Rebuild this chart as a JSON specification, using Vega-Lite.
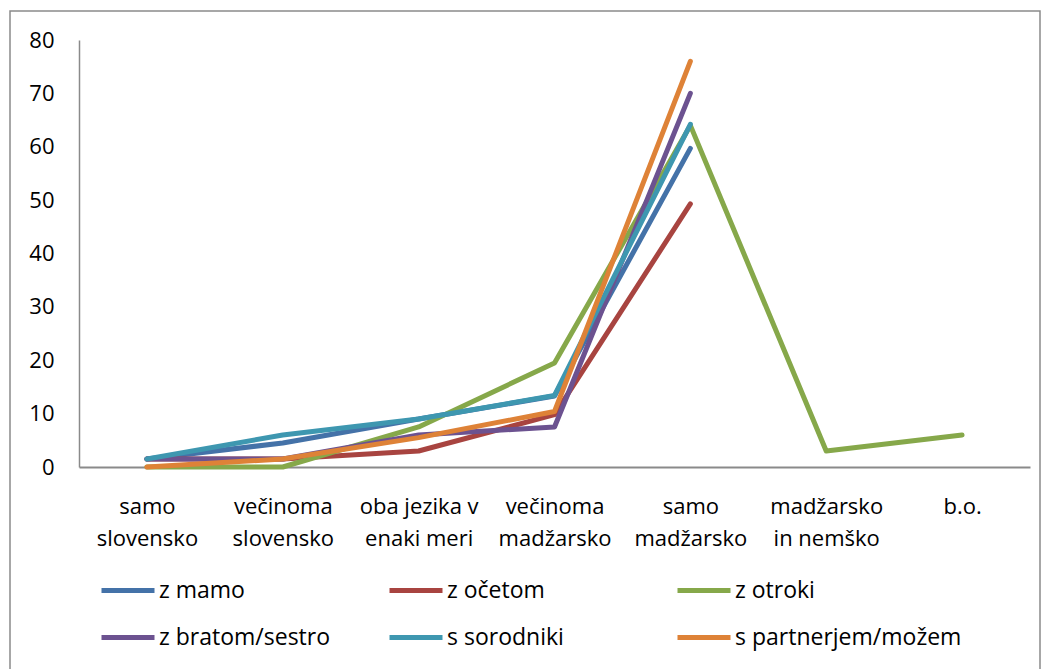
{
  "$schema": "https://vega.github.io/schema/vega-lite/v6.json",
  "width": 1030,
  "height": 659,
  "autosize": {"type": "none"},
  "padding": {"left": 10, "top": 11, "right": 7, "bottom": 0},
  "background": "white",
  "config": {
    "view": {"stroke": "#8a8a8a", "strokeWidth": 1.5},
    "font": "Open Sans"
  },
  "data": {
    "values": [
      {"series": "z mamo", "cat": "samo slovensko", "value": 1.5},
      {"series": "z mamo", "cat": "večinoma slovensko", "value": 4.5},
      {"series": "z mamo", "cat": "oba jezika v enaki meri", "value": 9},
      {"series": "z mamo", "cat": "večinoma madžarsko", "value": 13.3},
      {"series": "z mamo", "cat": "samo madžarsko", "value": 59.7},
      {"series": "z očetom", "cat": "samo slovensko", "value": 1.5},
      {"series": "z očetom", "cat": "večinoma slovensko", "value": 1.5},
      {"series": "z očetom", "cat": "oba jezika v enaki meri", "value": 3},
      {"series": "z očetom", "cat": "večinoma madžarsko", "value": 9.8},
      {"series": "z očetom", "cat": "samo madžarsko", "value": 49.3},
      {"series": "z otroki", "cat": "samo slovensko", "value": 0},
      {"series": "z otroki", "cat": "večinoma slovensko", "value": 0},
      {"series": "z otroki", "cat": "oba jezika v enaki meri", "value": 7.5},
      {"series": "z otroki", "cat": "večinoma madžarsko", "value": 19.5},
      {"series": "z otroki", "cat": "samo madžarsko", "value": 64},
      {"series": "z otroki", "cat": "madžarsko in nemško", "value": 3},
      {"series": "z otroki", "cat": "b.o.", "value": 6},
      {"series": "z bratom/sestro", "cat": "samo slovensko", "value": 1.5},
      {"series": "z bratom/sestro", "cat": "večinoma slovensko", "value": 1.5},
      {"series": "z bratom/sestro", "cat": "oba jezika v enaki meri", "value": 6},
      {"series": "z bratom/sestro", "cat": "večinoma madžarsko", "value": 7.5},
      {"series": "z bratom/sestro", "cat": "samo madžarsko", "value": 70},
      {"series": "s sorodniki", "cat": "samo slovensko", "value": 1.5},
      {"series": "s sorodniki", "cat": "večinoma slovensko", "value": 6},
      {"series": "s sorodniki", "cat": "oba jezika v enaki meri", "value": 9},
      {"series": "s sorodniki", "cat": "večinoma madžarsko", "value": 13.4},
      {"series": "s sorodniki", "cat": "samo madžarsko", "value": 64.2},
      {"series": "s partnerjem/možem", "cat": "samo slovensko", "value": 0},
      {"series": "s partnerjem/možem", "cat": "večinoma slovensko", "value": 1.5},
      {"series": "s partnerjem/možem", "cat": "oba jezika v enaki meri", "value": 5.5},
      {"series": "s partnerjem/možem", "cat": "večinoma madžarsko", "value": 10.4},
      {"series": "s partnerjem/možem", "cat": "samo madžarsko", "value": 76}
    ]
  },
  "mark": {"type": "line", "strokeWidth": 5, "strokeCap": "round", "strokeJoin": "round"},
  "encoding": {
    "x": {
      "field": "cat",
      "type": "ordinal",
      "sort": ["samo slovensko", "večinoma slovensko", "oba jezika v enaki meri", "večinoma madžarsko", "samo madžarsko", "madžarsko in nemško", "b.o."],
      "scale": {"type": "point", "padding": 0.5, "range": [69, 1020]},
      "axis": {
        "title": null,
        "orient": "bottom",
        "offset": -203,
        "domainColor": "#8a8a8a",
        "domainWidth": 2,
        "ticks": false,
        "tickSize": 0,
        "grid": false,
        "labelAngle": 0,
        "labelFontSize": 22,
        "labelColor": "#000000",
        "labelBaseline": "top",
        "labelLineHeight": 32,
        "labelPadding": 29,
        "labelAlign": "center",
        "labelExpr": "datum.value == 'oba jezika v enaki meri' ? ['oba jezika v', 'enaki meri'] : datum.value == 'madžarsko in nemško' ? ['madžarsko', 'in nemško'] : datum.value == 'b.o.' ? ['b.o.'] : split(datum.value, ' ')"
      }
    },
    "y": {
      "field": "value",
      "type": "quantitative",
      "scale": {"domain": [0, 80], "range": [456, 29], "nice": false, "zero": true},
      "axis": {
        "title": null,
        "orient": "left",
        "offset": -69,
        "values": [0, 10, 20, 30, 40, 50, 60, 70, 80],
        "domainColor": "#8a8a8a",
        "domainWidth": 1.5,
        "ticks": false,
        "tickSize": 0,
        "grid": false,
        "labelFontSize": 22,
        "labelColor": "#000000",
        "labelPadding": 25
      }
    },
    "color": {
      "field": "series",
      "type": "nominal",
      "sort": ["z mamo", "z očetom", "z otroki", "z bratom/sestro", "s sorodniki", "s partnerjem/možem"],
      "scale": {
        "domain": ["z mamo", "z očetom", "z otroki", "z bratom/sestro", "s sorodniki", "s partnerjem/možem"],
        "range": ["#4472A8", "#A84440", "#86A84A", "#6C5290", "#3E97B0", "#DE8237"]
      },
      "legend": {
        "title": null,
        "orient": "none",
        "legendX": 89,
        "legendY": 556,
        "direction": "horizontal",
        "columns": 3,
        "gridAlign": "all",
        "columnPadding": 1,
        "rowPadding": 0,
        "clipHeight": 47,
        "symbolType": "stroke",
        "symbolSize": 2809,
        "symbolStrokeWidth": 5,
        "labelFontSize": 23,
        "labelColor": "#000000",
        "labelOffset": 2,
        "labelLimit": 400
      }
    }
  }
}
